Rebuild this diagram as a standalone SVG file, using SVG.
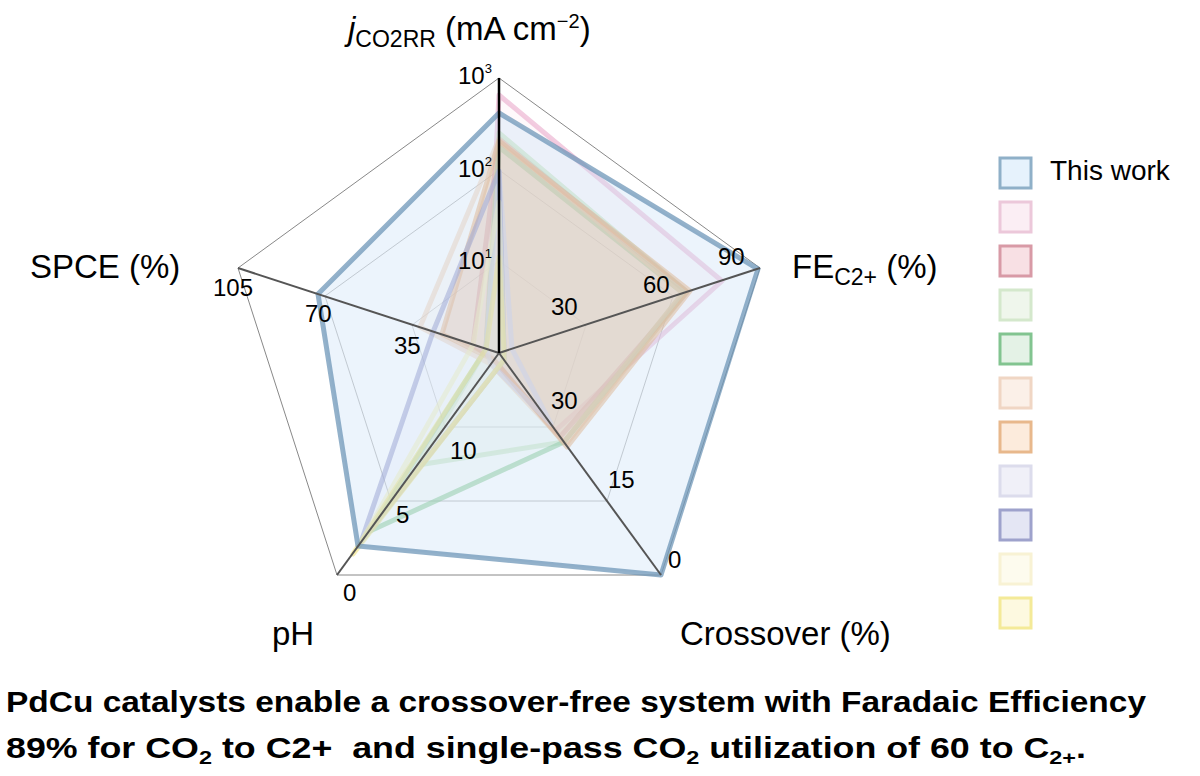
<svg xmlns="http://www.w3.org/2000/svg" width="1200" height="776" viewBox="0 0 1200 776">
<style>
text{font-family:"Liberation Sans",Arial,sans-serif;fill:#000}
.t{font-size:24px}
.ax{font-size:33px}
.grid{fill:none;stroke:#888;stroke-width:1}
.axis{stroke:#555;stroke-width:2}
.s{stroke-width:5;stroke-linejoin:round;fill-opacity:.15;stroke-opacity:.55}
.cap{font-size:29px;font-weight:bold}
</style>
<rect width="1200" height="776" fill="#fff"/>
<g id="grid">
<polygon class="grid" points="499,78 760,268 661,575 337,575 238,268"/>
<polygon class="grid" points="499,170 673,296 607,501 391,501 325,296" stroke-opacity=".6"/>
<polygon class="grid" points="499,261 586,325 553,427 445,427 412,325" stroke-opacity=".4"/>
</g>
<g id="series">
<polygon class="s" style="stroke:#e8a2c6;fill:#f7d6e6" points="499,95 722,281 555,431 494,360 486,349"/>
<polygon class="s" style="stroke:#d07080;fill:#f0c8cf" points="499,139 687,292 560,437 494,360 473,345"/>
<polygon class="s" style="stroke:#b8dca8;fill:#d8ecd0" points="499,133 687,292 564,442 418,465 486,349"/>
<polygon class="s" style="stroke:#6dbd78;fill:#d0ecd4" points="499,147 683,293 564,442 370,531 486,349"/>
<polygon class="s" style="stroke:#f0c8a8;fill:#f8e0cc" points="499,139 683,293 564,442 491,364 420,327"/>
<polygon class="s" style="stroke:#e8a060;fill:#f0b078;fill-opacity:.4" points="499,141 690,291 567,447 494,360 442,334"/>
<polygon class="s" style="stroke:#c8c8e4;fill:#e4e4f4" points="499,171 512,349 551,424 491,364 486,349"/>
<polygon class="s" style="stroke:#7f84c0;fill:#d8daf0" points="499,171 504,351 504,360 361,542 433,332"/>
<polygon class="s" style="stroke:#f4eeb0;fill:#fbf7dc" points="499,202 504,351 504,360 361,542 473,345"/>
<polygon class="s" style="stroke:#f0e070;fill:#fbf4c8" points="499,257 504,351 504,360 353,554 486,349"/>
<polygon class="s" style="stroke:#6f97b8;fill:#cfe4f7;fill-opacity:.4;stroke-opacity:.75" points="499,113 758,269 661,575 358,546 318,294"/>
</g>
<g id="axes">
<line class="axis" x1="499" y1="353" x2="760" y2="268"/>
<line class="axis" x1="499" y1="353" x2="661" y2="575"/>
<line class="axis" x1="499" y1="353" x2="337" y2="575"/>
<line class="axis" x1="499" y1="353" x2="238" y2="268"/>
<line x1="499" y1="353" x2="499" y2="78" stroke="#000" stroke-width="2.5"/>
</g>
<g id="ticks">
<text class="t" x="458" y="84">10<tspan font-size="13" dy="-11">3</tspan></text>
<text class="t" x="458" y="177">10<tspan font-size="13" dy="-11">2</tspan></text>
<text class="t" x="458" y="269">10<tspan font-size="13" dy="-11">1</tspan></text>
<text class="t" x="718" y="265">90</text>
<text class="t" x="643" y="293">60</text>
<text class="t" x="551" y="315">30</text>
<text class="t" x="213" y="296">105</text>
<text class="t" x="305" y="322">70</text>
<text class="t" x="394" y="354">35</text>
<text class="t" x="551" y="409">30</text>
<text class="t" x="608" y="488">15</text>
<text class="t" x="668" y="568">0</text>
<text class="t" x="450" y="459">10</text>
<text class="t" x="396" y="523">5</text>
<text class="t" x="343" y="601">0</text>
</g>
<g id="labels">
<text class="ax" x="348" y="40"><tspan font-style="italic">j</tspan><tspan font-size="23" dy="7">CO2RR</tspan><tspan dy="-7"> (mA cm</tspan><tspan font-size="20" dy="-12">−2</tspan><tspan dy="12">)</tspan></text>
<text class="ax" x="792" y="278">FE<tspan font-size="23" dy="7">C2+</tspan><tspan dy="-7"> (%)</tspan></text>
<text class="ax" x="30" y="278">SPCE (%)</text>
<text class="ax" x="272" y="645">pH</text>
<text class="ax" x="680" y="645">Crossover (%)</text>
</g>
<g id="legend" stroke-width="3">
<rect x="1000" y="158" width="31" height="30" fill="#e6f2fc" stroke="#8fb0c8"/>
<rect x="1000" y="202" width="31" height="30" fill="#fbeef4" stroke="#ecc8da"/>
<rect x="1000" y="246" width="31" height="30" fill="#f8e0e4" stroke="#d89aa6"/>
<rect x="1000" y="290" width="31" height="30" fill="#eff6ec" stroke="#d4e8cc"/>
<rect x="1000" y="334" width="31" height="30" fill="#e4f2e6" stroke="#82c490"/>
<rect x="1000" y="378" width="31" height="30" fill="#fbf0e8" stroke="#f0d6c4"/>
<rect x="1000" y="422" width="31" height="30" fill="#fcebdc" stroke="#e8b88c"/>
<rect x="1000" y="466" width="31" height="30" fill="#f0f0f8" stroke="#dcdcec"/>
<rect x="1000" y="510" width="31" height="30" fill="#e4e6f4" stroke="#9ea2cc"/>
<rect x="1000" y="554" width="31" height="30" fill="#fdfbee" stroke="#f8f2d4"/>
<rect x="1000" y="598" width="31" height="30" fill="#fdf9e0" stroke="#f4ea98"/>
<text x="1050" y="180" font-size="28" stroke="none">This work</text>
</g>
<g id="caption">
<text class="cap" x="6" y="712" textLength="1140" lengthAdjust="spacingAndGlyphs">PdCu catalysts enable a crossover-free system with Faradaic Efficiency</text>
<text class="cap" x="6" y="758" textLength="1080" lengthAdjust="spacingAndGlyphs">89% for CO<tspan font-size="19" dy="6">2</tspan><tspan dy="-6"> to C2+&#160; and single-pass CO</tspan><tspan font-size="19" dy="6">2</tspan><tspan dy="-6"> utilization of 60 to C</tspan><tspan font-size="19" dy="6">2+</tspan><tspan dy="-6">.</tspan></text>
</g>
</svg>
